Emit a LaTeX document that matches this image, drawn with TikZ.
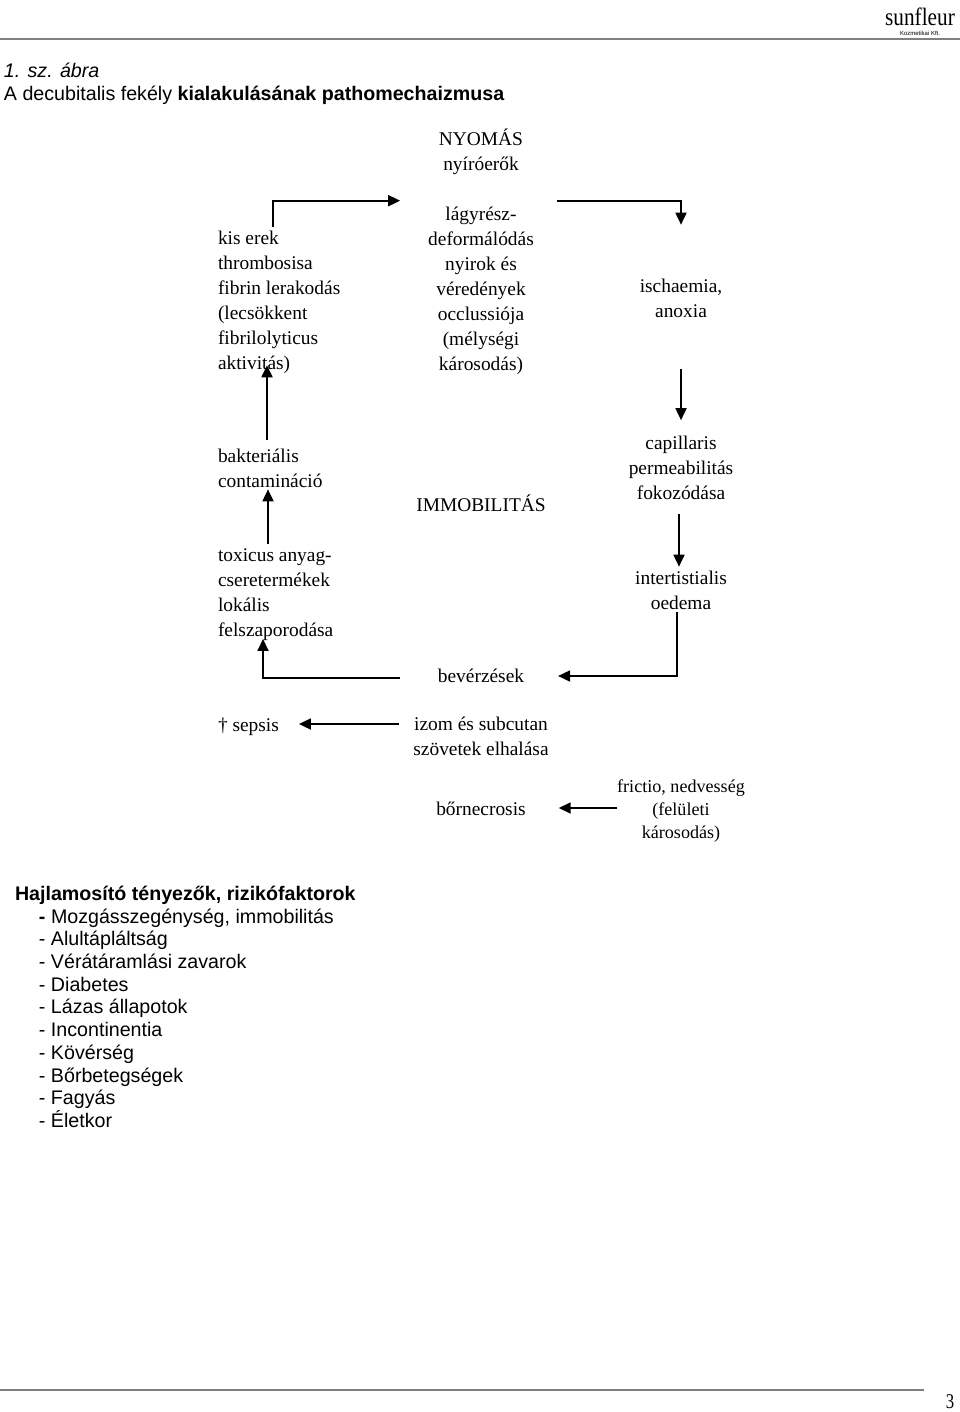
\documentclass[tikz,border=0pt]{standalone}
\usepackage{fontspec}
\setmainfont{Liberation Serif}
\newfontfamily\arialfont{Liberation Sans}
\usetikzlibrary{arrows.meta,positioning}

\begin{document}
\begin{tikzpicture}
      [
        x=1pt, y=-1pt,
        Flow/.style={draw, line width=1.8pt, -{Triangle[length=12pt, width=11pt]}},
        Rule/.style={draw=black!50, line width=2pt},
        StepText/.style={inner sep=0pt, outer sep=0pt, align=center, font=\fontsize{19.4}{25}\selectfont},
        LeftText/.style={StepText, align=left, anchor=west},
        ListText/.style={inner sep=0pt, outer sep=0pt, align=left, anchor=north west, font=\arialfont\fontsize{19.65}{22.7}\selectfont},
      ]

      \useasboundingbox (0,0) rectangle (960,1412);

      % page furniture
      \draw [Rule] (0,39.5) -- (960,39.5);
      \draw [Rule] (0,1390) -- (924,1390);
      \node [inner sep=0pt, font=\fontsize{25}{25}\selectfont, xscale=.85] (logo) at (920,17) {sunfleur};
      \node [inner sep=0pt, font=\arialfont\fontsize{6}{6}\selectfont, below=5pt of logo] (kft) {Kozmetikai Kft.};
      \node [inner sep=0pt, font=\fontsize{21}{21}\selectfont, xscale=.8] (pagenum) at (950,1402) {3};

      \node [ListText] (title) at (4,63) {\textit{1. sz. ábra}\\A decubitalis fekély \textbf{kialakulásának pathomechaizmusa}};

      % steps
      \node [StepText] (nyomas) at (481,152) {NYOMÁS\\nyíróerők};
      \node [LeftText] (kis) at (218,302) {kis erek\\thrombosisa\\fibrin lerakodás\\(lecsökkent\\fibrilolyticus\\aktivitás)};
      \node [StepText] (lagy) at (481,290.5) {lágyrész-\\deformálódás\\nyirok és\\véredények\\occlussiója\\(mélységi\\károsodás)};
      \node [StepText] (isch) at (681,298) {ischaemia,\\anoxia};
      \node [LeftText] (bakt) at (218,468) {bakteriális\\contamináció};
      \node [StepText] (immo) at (481,503) {IMMOBILITÁS};
      \node [StepText] (cap) at (681,468) {capillaris\\permeabilitás\\fokozódása};
      \node [LeftText] (toxi) at (218,595) {toxicus anyag-\\cseretermékek\\lokális\\felszaporodása};
      \node [StepText] (inter) at (681,590) {intertistialis\\oedema};
      \node [StepText] (bev) at (481,676) {bevérzések};
      \node [LeftText] (sepsis) at (218,727) {† sepsis};
      \node [StepText] (izom) at (481,736) {izom és subcutan\\szövetek elhalása};
      \node [StepText] (necro) at (481,809) {bőrnecrosis};
      \node [StepText, font=\fontsize{18.1}{23}\selectfont] (fric) at (681,811) {frictio, nedvesség\\(felületi\\károsodás)};

      \draw [Flow] ([xshift=55pt, yshift=4pt]kis.north west) |- ([xshift=-28pt, yshift=6pt]lagy.north west);
      \draw [Flow] ([xshift=23pt, yshift=6pt]lagy.north east) -| ([yshift=54pt]isch.north);
      \draw [Flow, shorten <=52pt, shorten >=16pt] (isch) -- (cap);
      \draw [Flow] ([xshift=49pt, yshift=9pt]bakt.north west) -- ([xshift=49pt, yshift=8pt]kis.south west);
      \draw [Flow] ([xshift=50pt, yshift=5pt]toxi.north west) -- ([xshift=50pt, yshift=-2pt]bakt.south west);
      \draw [Flow, shorten <=14pt] ([xshift=-2pt]cap.south) -- ([xshift=-2pt, yshift=4pt]inter.north);
      \draw [Flow, shorten <=3pt] ([xshift=-4pt]inter.south) |- ([xshift=34pt]bev.east);
      \draw [Flow] ([xshift=-38pt, yshift=-2pt]bev.west) -| ([xshift=45pt, yshift=2pt]toxi.south west);
      \draw [Flow] ([xshift=-14pt, yshift=12pt]izom.west) -- ([xshift=20pt, yshift=3pt]sepsis.east);
      \draw [Flow] ([yshift=3pt]fric.west) -- ([xshift=33pt, yshift=1pt]necro.east);

      % risk factors
      \node [ListText] (risk) at (15,886) {\textbf{Hajlamosító tényezők, rizikófaktorok}\\
        \hspace*{24pt}\textbf{-} Mozgásszegénység, immobilitás\\
        \hspace*{24pt}- Alultápláltság\\
        \hspace*{24pt}- Vérátáramlási zavarok\\
        \hspace*{24pt}- Diabetes\\
        \hspace*{24pt}- Lázas állapotok\\
        \hspace*{24pt}- Incontinentia\\
        \hspace*{24pt}- Kövérség\\
        \hspace*{24pt}- Bőrbetegségek\\
        \hspace*{24pt}- Fagyás\\
        \hspace*{24pt}- Életkor};
    \end{tikzpicture}
\end{document}
